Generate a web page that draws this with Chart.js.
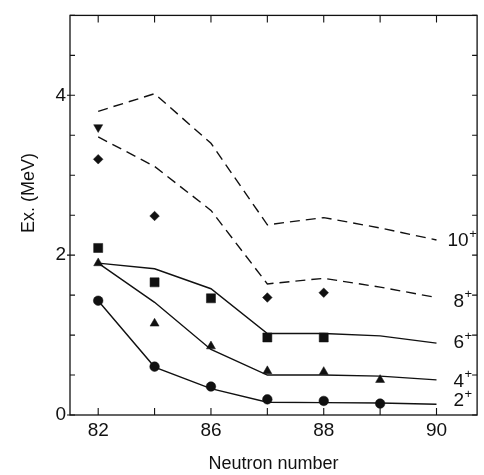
<!DOCTYPE html>
<html>
<head>
<meta charset="utf-8">
<script src="https://cdn.jsdelivr.net/npm/chart.js@4/dist/chart.umd.min.js"></script>
<style>
  html, body { margin: 0; padding: 0; background: #fff; }
  #wrap { width: 484px; height: 475px; }
</style>
</head>
<body>
<div id="wrap"><canvas id="c" width="484" height="475"></canvas></div>
<script>
// ---- data ----
const neutronNumbers = [82, 84, 86, 87, 88, 89, 90];
const xTickLabels = ['82', '', '86', '', '88', '', '90'];
const yTickLabels = { 0: '0', 2: '2', 4: '4' };

// calculated curves (index 0..6)
const calc2 = [1.43, 0.60, 0.33, 0.16, 0.155, 0.15, 0.135];
const calc4 = [1.90, 1.41, 0.82, 0.50, 0.50, 0.487, 0.44];
const calc6 = [1.90, 1.83, 1.58, 1.02, 1.02, 0.99, 0.90];
const calc8 = [3.48, 3.11, 2.56, 1.64, 1.71, 1.60, 1.47];
const calc10 = [3.80, 4.02, 3.40, 2.38, 2.47, 2.34, 2.19];

// experimental points (index 0..)
const exp2 = [1.43, 0.605, 0.356, 0.196, 0.176, 0.143];
const exp4 = [1.90, 1.145, 0.86, 0.55, 0.54, 0.44];
const exp6 = [2.09, 1.66, 1.46, 0.97, 0.97];
const exp8 = [3.20, 2.49, null, 1.47, 1.53];
const exp10 = [3.60];

const seriesLabels = ['10', '8', '6', '4', '2'];

// ---- build ----
const toXY = arr => arr.map((v, i) => ({ x: i, y: v })).filter(p => p.y !== null);
const FONT = "'Liberation Sans', Arial, Helvetica, sans-serif";

function lineDs(arr, dashed) {
  return { type: 'line', data: toXY(arr), borderColor: '#111', borderWidth: 1.4,
    borderDash: dashed ? [10, 6] : [], pointRadius: 0, tension: 0, fill: false };
}
function ptDs(arr, style, radius, rot) {
  return { type: 'scatter', data: toXY(arr), showLine: false, pointStyle: style,
    pointRadius: radius, pointRotation: rot || 0, backgroundColor: '#111',
    borderColor: '#111', borderWidth: 0.5 };
}

const labelStyle = [
  { curve: calc10, dx: 11, dy: 1 },
  { curve: calc8, dx: 17, dy: 4 },
  { curve: calc6, dx: 17, dy: 0 },
  { curve: calc4, dx: 17, dy: 2 },
  { curve: calc2, dx: 17, dy: -3 }
];

const framePlugin = {
  id: 'frame',
  afterDatasetsDraw(chart) {
    const { ctx, chartArea: a, scales } = chart;
    const xs = scales.x, ys = scales.y;
    ctx.save();
    ctx.strokeStyle = '#111';
    ctx.lineWidth = 1.3;
    ctx.strokeRect(a.left, a.top, a.right - a.left, a.bottom - a.top);
    ctx.lineWidth = 1.1;
    ctx.beginPath();
    for (let i = 0; i < neutronNumbers.length; i++) {
      const px = xs.getPixelForValue(i);
      ctx.moveTo(px, a.bottom); ctx.lineTo(px, a.bottom - 7);
      ctx.moveTo(px, a.top); ctx.lineTo(px, a.top + 7);
    }
    for (let v = 0; v <= 5.001; v += 0.5) {
      const py = ys.getPixelForValue(v);
      ctx.moveTo(a.left, py); ctx.lineTo(a.left + 5, py);
      ctx.moveTo(a.right, py); ctx.lineTo(a.right - 5, py);
      if (yTickLabels[v] !== undefined) { ctx.moveTo(a.left - 3, py); ctx.lineTo(a.left, py); }
    }
    ctx.stroke();

    // series labels
    ctx.fillStyle = '#111';
    ctx.textBaseline = 'middle';
    ctx.textAlign = 'left';
    const xEnd = xs.getPixelForValue(neutronNumbers.length - 1);
    labelStyle.forEach((s, k) => {
      const y = ys.getPixelForValue(s.curve[s.curve.length - 1]) + s.dy;
      const x = xEnd + s.dx;
      ctx.font = '19px ' + FONT;
      ctx.fillText(seriesLabels[k], x, y);
      const w = ctx.measureText(seriesLabels[k]).width;
      ctx.font = '13px ' + FONT;
      ctx.fillText('+', x + w + 0.5, y - 7);
    });

    // y title
    ctx.save();
    ctx.translate(29, 193);
    ctx.rotate(-Math.PI / 2);
    ctx.textAlign = 'center';
    ctx.textBaseline = 'middle';
    ctx.font = '18px ' + FONT;
    ctx.fillText('Ex. (MeV)', 0, 0);
    ctx.restore();
    ctx.restore();
  }
};

new Chart(document.getElementById('c'), {
  type: 'line',
  data: {
    datasets: [
      lineDs(calc2), lineDs(calc4), lineDs(calc6), lineDs(calc8, true), lineDs(calc10, true),
      ptDs(exp2, 'circle', 4.8), ptDs(exp4, 'triangle', 5.2), ptDs(exp6, 'rect', 6.4),
      ptDs(exp8, 'rectRot', 4.8), ptDs(exp10, 'triangle', 5.2, 180)
    ]
  },
  options: {
    responsive: false,
    animation: false,
    events: [],
    layout: { padding: { left: 0, right: 4, top: 8, bottom: 0 } },
    plugins: { legend: { display: false }, tooltip: { enabled: false } },
    scales: {
      x: {
        type: 'linear', min: -0.5, max: 6.72,
        afterFit(s) { s.height = 60; },
        grid: { display: false, drawTicks: false },
        border: { display: false },
        ticks: {
          stepSize: 1, autoSkip: false, includeBounds: false, padding: 4, color: '#111', maxRotation: 0,
          font: { family: FONT, size: 19 },
          callback: v => (Number.isInteger(v) && xTickLabels[v] !== undefined) ? xTickLabels[v] : ''
        },
        title: { display: true, text: 'Neutron number', color: '#111',
          font: { family: FONT, size: 18 }, padding: { top: 12, bottom: 0 } }
      },
      y: {
        type: 'linear', min: 0, max: 5,
        afterFit(s) { s.width = 70; },
        grid: { display: false, drawTicks: false },
        border: { display: false },
        ticks: {
          stepSize: 0.5, autoSkip: false, padding: 4, color: '#111',
          font: { family: FONT, size: 19 },
          callback: v => yTickLabels[v] !== undefined ? yTickLabels[v] : ''
        }
      }
    }
  },
  plugins: [framePlugin]
});
</script>
</body>
</html>
